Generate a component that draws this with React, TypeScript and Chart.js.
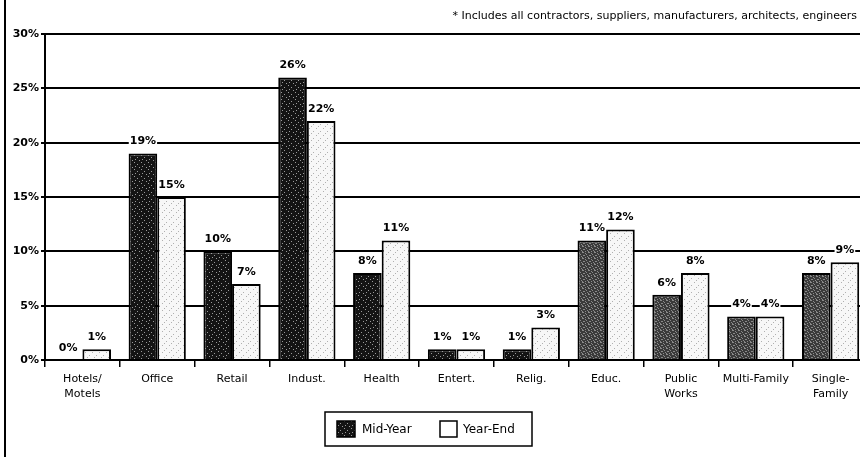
import React, { useEffect, useRef } from "react";
import { Chart, registerables } from "chart.js";

Chart.register(...registerables);

const categories: (string | string[])[] = [
  ["Hotels/", "Motels"],
  "Office",
  "Retail",
  "Indust.",
  "Health",
  "Entert.",
  "Relig.",
  "Educ.",
  ["Public", "Works"],
  "Multi-Family",
  ["Single-", "Family"],
];
const midYear = [0, 19, 10, 26, 8, 1, 1, 11, 6, 4, 8];
const yearEnd = [1, 15, 7, 22, 11, 1, 3, 12, 8, 4, 9];
const seriesNames = ["Mid-Year", "Year-End"];
const footnote =
  "* Includes all contractors, suppliers, manufacturers, architects, engineers";

const FONT = "'DejaVu Sans', Arial, Helvetica, sans-serif";

function makePattern(bg: string, dot: string, size: number, dots: number[][]) {
  const c = document.createElement("canvas");
  c.width = size;
  c.height = size;
  const g = c.getContext("2d")!;
  g.fillStyle = bg;
  g.fillRect(0, 0, size, size);
  g.fillStyle = dot;
  dots.forEach(([x, y]) => g.fillRect(x, y, 1, 1));
  return g.createPattern(c, "repeat")!;
}

export default function App() {
  const ref = useRef<HTMLCanvasElement | null>(null);

  useEffect(() => {
    const canvas = ref.current!;
    const ctx = canvas.getContext("2d")!;

    const darkPat = makePattern("#141414", "#9a9a9a", 7, [
      [1, 1],
      [4, 3],
      [2, 5],
      [6, 6],
    ]);
    const mottledPat = makePattern("#3a3a3a", "#8a8a8a", 6, [
      [0, 0],
      [1, 0],
      [3, 1],
      [4, 2],
      [1, 3],
      [2, 3],
      [5, 4],
      [0, 5],
      [3, 5],
    ]);
    const lightPat = makePattern("#f7f7f7", "#b0b0b0", 7, [
      [1, 2],
      [5, 5],
      [3, 0],
    ]);

    const midColors = midYear.map((_, i) => (i >= 7 ? mottledPat : darkPat));

    const labelPlugin = {
      id: "valueLabels",
      afterDatasetsDraw(chart: any) {
        const c = chart.ctx;
        c.save();
        c.font = `bold 11px ${FONT}`;
        c.textAlign = "center";
        c.textBaseline = "middle";
        chart.data.datasets.forEach((ds: any, di: number) => {
          const meta = chart.getDatasetMeta(di);
          meta.data.forEach((el: any, i: number) => {
            const txt = `${ds.data[i]}%`;
            const w = c.measureText(txt).width;
            const y = el.y - 12;
            c.fillStyle = "#fff";
            c.fillRect(el.x - w / 2 - 1, y - 6, w + 2, 12);
            c.fillStyle = "#000";
            c.fillText(txt, el.x, y);
          });
        });
        c.restore();
      },
      afterDraw(chart: any) {
        const c = chart.ctx;
        c.save();
        // left page frame line
        c.fillStyle = "#000";
        c.fillRect(4, 0, 2, chart.height);
        // footnote
        c.font = `11px ${FONT}`;
        c.textAlign = "right";
        c.textBaseline = "middle";
        c.fillText(footnote, 857, 16);
        // legend
        c.lineWidth = 1.5;
        c.strokeStyle = "#000";
        c.fillStyle = "#fff";
        c.fillRect(325, 412, 207, 34);
        c.strokeRect(325, 412, 207, 34);
        c.fillStyle = darkPat;
        c.fillRect(337, 421, 18, 16);
        c.strokeRect(337, 421, 18, 16);
        c.fillStyle = "#fff";
        c.fillRect(440, 421, 17, 16);
        c.strokeRect(440, 421, 17, 16);
        c.fillStyle = "#000";
        c.font = `12px ${FONT}`;
        c.textAlign = "left";
        c.fillText(seriesNames[0], 362, 429.5);
        c.fillText(seriesNames[1], 463, 429.5);
        c.restore();
      },
    };

    const chart = new Chart(ctx, {
      type: "bar",
      data: {
        labels: categories,
        datasets: [
          {
            label: seriesNames[0],
            data: midYear,
            backgroundColor: midColors as any,
            borderColor: "#000",
            borderWidth: 2,
            categoryPercentage: 0.765,
            barPercentage: 1,
          },
          {
            label: seriesNames[1],
            data: yearEnd,
            backgroundColor: lightPat as any,
            borderColor: "#000",
            borderWidth: 2,
            categoryPercentage: 0.765,
            barPercentage: 1,
          },
        ],
      },
      options: {
        responsive: false,
        animation: false,
        devicePixelRatio: 1,
        layout: { padding: { top: 34, bottom: 57, left: 0, right: 0 } },
        plugins: {
          legend: { display: false },
          tooltip: { enabled: false },
          title: { display: false },
        },
        scales: {
          x: {
            offset: true,
            grid: {
              display: true,
              offset: true,
              drawOnChartArea: false,
              drawTicks: true,
              tickLength: 7,
              color: "#000",
              lineWidth: 1.5,
            },
            border: { display: true, color: "#000", width: 2 },
            ticks: {
              color: "#000",
              font: { family: FONT, size: 11, lineHeight: 1.35 },
              padding: 5,
              maxRotation: 0,
              autoSkip: false,
            },
            afterFit: (s: any) => {
              s.height = 40;
            },
          },
          y: {
            min: 0,
            max: 30,
            ticks: {
              stepSize: 5,
              color: "#000",
              font: { family: FONT, size: 11, weight: "bold" },
              padding: 2,
              callback: (v: any) => `${v}%`,
            },
            grid: {
              color: "#000",
              lineWidth: 2,
              tickLength: 4,
            },
            border: { display: true, color: "#000", width: 2 },
            afterFit: (s: any) => {
              s.width = 45;
            },
          },
        },
      },
      plugins: [labelPlugin],
    });
    return () => chart.destroy();
  }, []);

  return (
    <div
      style={{
        position: "fixed",
        left: 0,
        top: 0,
        width: 860,
        height: 457,
        overflow: "hidden",
        background: "#fff",
      }}
    >
      <canvas ref={ref} width={868} height={457} style={{ display: "block" }} />
    </div>
  );
}
